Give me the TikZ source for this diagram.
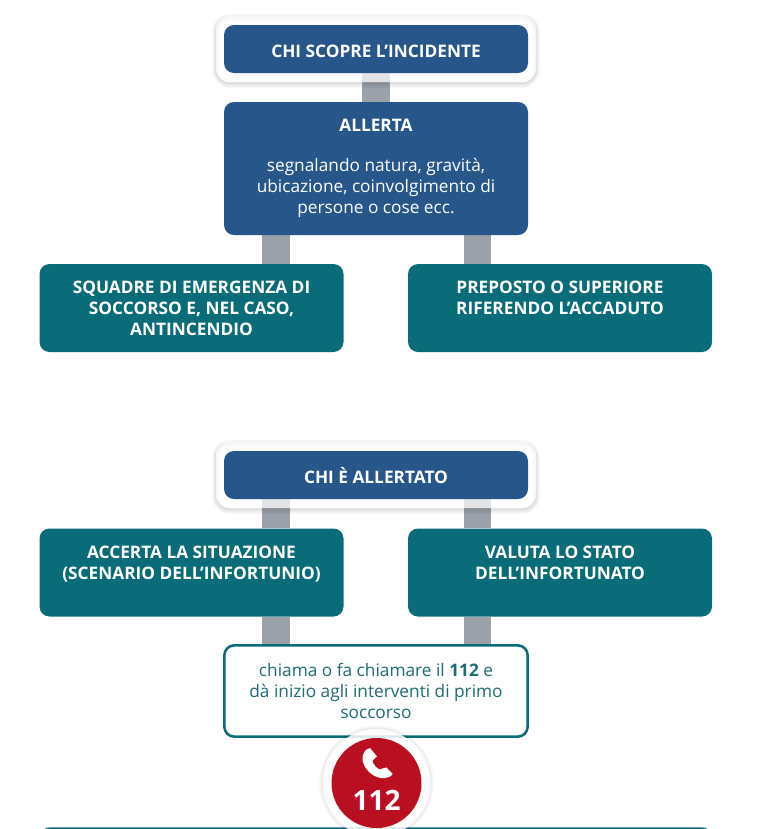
\documentclass[tikz,border=0pt]{standalone}
\usepackage{fontspec}
\setmainfont{Open Sans}
\usetikzlibrary{calc}
\definecolor{navy}{HTML}{27568B}
\definecolor{teal1}{HTML}{0A6C78}
\definecolor{tealtxt}{HTML}{1F6B72}
\definecolor{barg}{HTML}{9AA1A9}
\definecolor{red1}{HTML}{BA0F20}
\pgfdeclarelayer{bars}
\pgfdeclarelayer{halos}
\pgfsetlayers{bars,halos,main}
\newcommand{\boldfont}{\fontsize{12.95}{15.8}\selectfont\bfseries}
\newcommand{\bodyfont}{\fontsize{12.95}{15.8}\selectfont}
\newcommand{\toptxt}[3]{\parbox[c][#1][t]{226pt}{\vspace*{#2}\centering\rule{0pt}{13pt}#3\par}}
\tikzset{
  box/.style={rectangle,rounded corners=7.5pt,inner sep=0pt,minimum width=228pt,align=center,text=white},
  bluebox/.style={box,fill=navy,font=\boldfont},
  greenbox/.style={box,fill=teal1,font=\boldfont,minimum height=66pt},
  outline/.style={box,fill=white,draw=teal1,line width=1.9pt,minimum width=227.5pt,minimum height=68.5pt,text=tealtxt,font=\bodyfont},
  halo/.style={rectangle,rounded corners=10pt,minimum width=240pt,minimum height=49.5pt,inner sep=0pt,
    fill=white,fill opacity=.72,
    preaction={draw=black,draw opacity=.03,line width=6pt,transform canvas={yshift=-1.5pt}},
    preaction={draw=black,draw opacity=.045,line width=3.5pt,transform canvas={yshift=-1.5pt}},
    preaction={draw=black,draw opacity=.06,line width=1.5pt,transform canvas={yshift=-1pt}}},
  ringhalo/.style={circle,minimum size=81pt,inner sep=0pt,fill=white,fill opacity=.85,
    preaction={draw=black,draw opacity=.03,line width=5pt},
    preaction={draw=black,draw opacity=.045,line width=2.5pt}},
  connbar/.style={draw=barg,line width=21pt},
}
\begin{document}
\begin{tikzpicture}[x=0.75pt,y=-0.75pt]
\useasboundingbox (0,0) rectangle (767,829);
\clip (0,0) rectangle (767,829);
\coordinate (colM) at (376,0);
\coordinate (colL) at (276,0);
\coordinate (colR) at (477.5,0);

\begin{pgfonlayer}{halos}
\node[halo] (haloA) at (376,49) {};
\node[halo] (haloB) at (376,475) {};
\end{pgfonlayer}

\node[bluebox,minimum height=36pt] (scopre) at (376,49) {\toptxt{36pt}{11pt}{CHI SCOPRE L’INCIDENTE}};
\node[bluebox,minimum height=99.75pt] (allerta) at (376,168.5) {\toptxt{99.75pt}{9.3pt}{ALLERTA\\[14pt]\bodyfont\mdseries segnalando natura, gravità,\\ubicazione, coinvolgimento di\\persone o cose ecc.}};
\node[greenbox] (squadre) at (191.5,308) {\toptxt{66pt}{9.1pt}{SQUADRE DI EMERGENZA DI\\SOCCORSO E, NEL CASO,\\ANTINCENDIO}};
\node[greenbox] (preposto) at (560,308) {\toptxt{66pt}{9.1pt}{PREPOSTO O SUPERIORE\\RIFERENDO L’ACCADUTO}};

\node[bluebox,minimum height=36pt] (allertato) at (376,475) {\toptxt{36pt}{11pt}{CHI È ALLERTATO}};
\node[greenbox] (accerta) at (191.5,572.5) {\toptxt{65.25pt}{9.1pt}{ACCERTA LA SITUAZIONE\\(SCENARIO DELL’INFORTUNIO)}};
\node[greenbox] (valuta) at (560,572.5) {\toptxt{65.25pt}{9.1pt}{VALUTA LO STATO\\DELL’INFORTUNATO}};
\node[outline] (chiama) at (376,691) {\toptxt{67pt}{9.4pt}{chiama o fa chiamare il \textbf{112} e\\dà inizio agli interventi di primo\\soccorso}};

\node[box,fill=teal1,minimum width=504pt,minimum height=40pt,anchor=north] (next) at (376,827) {};

\node[ringhalo] (ring) at (376.5,783) {};
\node[circle,fill=red1,minimum size=67.5pt,inner sep=0pt] (call) at (376.5,783) {};
\node[text=white,font=\fontsize{21}{21}\selectfont\bfseries,anchor=base] (num) at (376.5,810) {112};
\fill[white] (370,748) .. controls (365,749) and (362,754) .. (362.5,760) .. controls (363.5,768) and (372,777) .. (381,778) .. controls (386,778.5) and (391,777) .. (392.7,774) -- (386.5,767.5) .. controls (384,767) and (382,769.5) .. (380,769.5) .. controls (377,769) and (372,763) .. (372.5,760.5) .. controls (373,759) and (376,758) .. (377,756.5) -- cycle;

\begin{pgfonlayer}{bars}
\draw[connbar] (scopre.south -| colM) -- (allerta.north -| colM);
\draw[connbar] (allerta.south -| colL) -- (squadre.north -| colL);
\draw[connbar,line width=20.25pt] (allerta.south -| colR) -- (preposto.north -| colR);
\draw[connbar] (allertato.south -| colL) -- (accerta.north -| colL);
\draw[connbar,line width=20.25pt] (allertato.south -| colR) -- (valuta.north -| colR);
\draw[connbar] (accerta.south -| colL) -- (chiama.north -| colL);
\draw[connbar,line width=20.25pt] (valuta.south -| colR) -- (chiama.north -| colR);
\end{pgfonlayer}
\end{tikzpicture}
\end{document}
